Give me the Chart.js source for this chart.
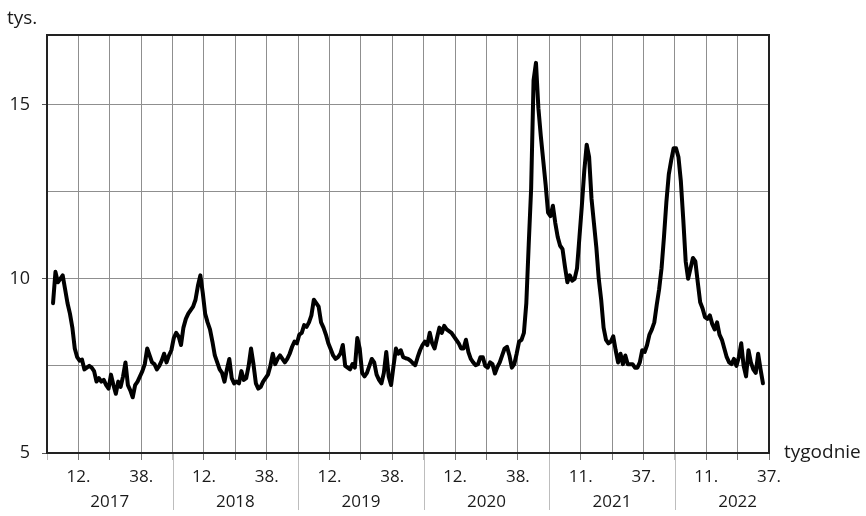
<!DOCTYPE html>
<html>
<head>
<meta charset="utf-8">
<script src="https://cdn.jsdelivr.net/npm/chart.js@4"></script>
<style>
  html, body { margin: 0; padding: 0; background: #fff; }
  #wrap { width: 866px; height: 516px; }
</style>
</head>
<body>
<div id="wrap"><canvas id="deathsChart" width="866" height="516"></canvas></div>
<script>
// weekly deaths, thousands, from 2017 week 1
const weeklyDeaths = [
  9.3, 10.2, 9.9, 10.0, 10.1, 9.7, 9.3, 9.0, 8.6, 8.0,
  7.75, 7.65, 7.68, 7.4, 7.45, 7.5, 7.45, 7.35, 7.05, 7.15,
  7.05, 7.1, 6.95, 6.85, 7.25, 6.95, 6.7, 7.05, 6.9, 7.2,
  7.6, 6.95, 6.8, 6.6, 6.95, 7.05, 7.2, 7.35, 7.55, 8.0,
  7.8, 7.6, 7.55, 7.4, 7.5, 7.65, 7.85, 7.6, 7.8, 7.95,
  8.3, 8.45,
  8.35, 8.1, 8.6, 8.85, 9.0, 9.1, 9.2, 9.4, 9.8, 10.1,
  9.6, 9.0, 8.75, 8.55, 8.2, 7.8, 7.6, 7.4, 7.3, 7.05,
  7.4, 7.7, 7.15, 7.0, 7.05, 7.0, 7.35, 7.1, 7.15, 7.5,
  8.0, 7.55, 7.0, 6.85, 6.9, 7.05, 7.15, 7.25, 7.5, 7.85,
  7.55, 7.7, 7.8, 7.7, 7.6, 7.7, 7.85, 8.05, 8.2, 8.15,
  8.4,
  8.45, 8.67, 8.62, 8.75, 8.95, 9.4, 9.3, 9.2, 8.75, 8.6,
  8.4, 8.15, 7.98, 7.8, 7.7, 7.75, 7.85, 8.1, 7.5, 7.45,
  7.4, 7.55, 7.45, 8.3, 8.0, 7.3, 7.2, 7.3, 7.5, 7.7,
  7.6, 7.25, 7.1, 7.0, 7.3, 7.9, 7.2, 6.95, 7.5, 8.0,
  7.85, 7.95, 7.75, 7.72, 7.7, 7.65, 7.58, 7.52, 7.75, 7.95,
  8.1, 8.2,
  8.1, 8.45, 8.15, 8.0, 8.3, 8.6, 8.45, 8.65, 8.55, 8.5,
  8.45, 8.35, 8.25, 8.15, 8.0, 8.0, 8.25, 7.9, 7.7, 7.6,
  7.52, 7.55, 7.75, 7.75, 7.5, 7.45, 7.6, 7.55, 7.28, 7.47,
  7.6, 7.8, 8.0, 8.05, 7.8, 7.45, 7.55, 7.85, 8.2, 8.25,
  8.45, 9.3,
  11.0, 12.6, 15.7, 16.2, 14.9, 14.1, 13.4, 12.7, 11.9, 11.8,
  12.1, 11.6, 11.2, 10.95, 10.85, 10.35, 9.9, 10.1, 9.95, 10.0,
  10.3, 11.2, 12.1, 13.1, 13.85, 13.5, 12.3, 11.6, 10.9, 10.0,
  9.4, 8.6, 8.25, 8.15, 8.2, 8.35, 7.95, 7.6, 7.85, 7.55,
  7.8, 7.55, 7.55, 7.55, 7.45, 7.45, 7.6, 7.95, 7.9, 8.1,
  8.4, 8.55, 8.75, 9.25, 9.7, 10.3, 11.2, 12.2, 13.0, 13.4,
  13.75, 13.75, 13.5, 12.8, 11.7, 10.5, 10.0, 10.3, 10.6, 10.5,
  9.9, 9.33, 9.15, 8.9, 8.85, 8.95, 8.7, 8.55, 8.75, 8.4,
  8.25, 8.0, 7.75, 7.6, 7.55, 7.7, 7.5, 7.75, 8.15, 7.5,
  7.2, 7.95, 7.6, 7.4, 7.3, 7.85, 7.4, 7.0
];

const years = ['2017', '2018', '2019', '2020', '2021', '2022'];
const weekLabels = ['12.', '38.', '12.', '38.', '12.', '38.', '12.', '38.', '11.', '37.', '11.', '37.'];
const yLabels = [5, 10, 15];

const FONT = "'Open Sans', sans-serif";
const STEP = 13;        // grid every quarter of a year
const X_MAX = 299;      // axis length in weeks
const X_OFFSET = 2.5;   // first week sits a bit right of the axis start

const points = weeklyDeaths.map((v, i) => ({ x: i + X_OFFSET, y: v }));

const framePlugin = {
  id: 'frame',
  afterDraw(chart) {
    const { ctx, chartArea: a, scales } = chart;
    ctx.save();
    // long ticks at year boundaries
    ctx.strokeStyle = '#bdbdbd';
    ctx.lineWidth = 1;
    for (let k = 4; k * STEP < X_MAX; k += 4) {
      const px = Math.round(scales.x.getPixelForValue(k * STEP)) + 0.5;
      ctx.beginPath();
      ctx.moveTo(px, a.bottom);
      ctx.lineTo(px, a.bottom + 57);
      ctx.stroke();
    }
    // frame
    ctx.strokeStyle = '#222';
    ctx.lineWidth = 2;
    ctx.strokeRect(a.left, a.top, a.right - a.left, a.bottom - a.top);
    // axis titles
    ctx.fillStyle = '#1a1a1a';
    ctx.font = '19px ' + FONT;
    ctx.textBaseline = 'middle';
    ctx.textAlign = 'left';
    ctx.fillText('tys.', 7, 19);
    ctx.fillText('tygodnie', a.right + 15, a.bottom);
    ctx.restore();
  }
};

new Chart(document.getElementById('deathsChart'), {
  type: 'line',
  data: {
    datasets: [{
      data: points,
      borderColor: '#000',
      borderWidth: 4,
      pointRadius: 0,
      tension: 0,
      borderJoinStyle: 'round',
      borderCapStyle: 'round'
    }]
  },
  options: {
    responsive: false,
    animation: false,
    layout: { padding: { top: 35, right: 97, left: 0, bottom: 0 } },
    plugins: { legend: { display: false }, tooltip: { enabled: false } },
    scales: {
      x: {
        type: 'linear',
        min: 0,
        max: X_MAX,
        afterBuildTicks: (s) => {
          const t = [];
          for (let v = 0; v <= X_MAX; v += STEP) t.push({ value: v });
          s.ticks = t;
        },
        afterFit: (s) => { s.height = 63; },
        border: { display: false },
        grid: {
          color: '#8f8f8f',
          lineWidth: 1,
          tickLength: 7,
          tickColor: (c) => {
            const k = Math.round(c.tick.value / STEP);
            return k % 4 === 0 ? '#bdbdbd' : '#777';
          }
        },
        ticks: {
          autoSkip: false,
          maxRotation: 0,
          padding: 5,
          color: '#1a1a1a',
          font: { family: FONT, size: 17, lineHeight: 1.45 },
          callback: (value) => {
            const k = Math.round(value / STEP);
            const q = k % 4;
            const y = Math.floor(k / 4);
            if (q === 1) return weekLabels[y * 2];
            if (q === 3) return weekLabels[y * 2 + 1];
            if (q === 2) return ['', years[y]];
            return '';
          }
        }
      },
      y: {
        min: 5,
        max: 17,
        afterBuildTicks: (s) => {
          s.ticks = [5, 7.5, 10, 12.5, 15].map(v => ({ value: v }));
        },
        afterFit: (s) => { s.width = 47; },
        border: { display: false },
        grid: {
          color: '#8f8f8f',
          lineWidth: 1,
          tickLength: 5,
          tickColor: (c) => yLabels.includes(c.tick.value) ? '#555' : 'rgba(0,0,0,0)'
        },
        ticks: {
          padding: 12,
          color: '#1a1a1a',
          font: { family: FONT, size: 18 },
          callback: (value) => yLabels.includes(value) ? String(value) : ''
        }
      }
    }
  },
  plugins: [framePlugin]
});
</script>
</body>
</html>
